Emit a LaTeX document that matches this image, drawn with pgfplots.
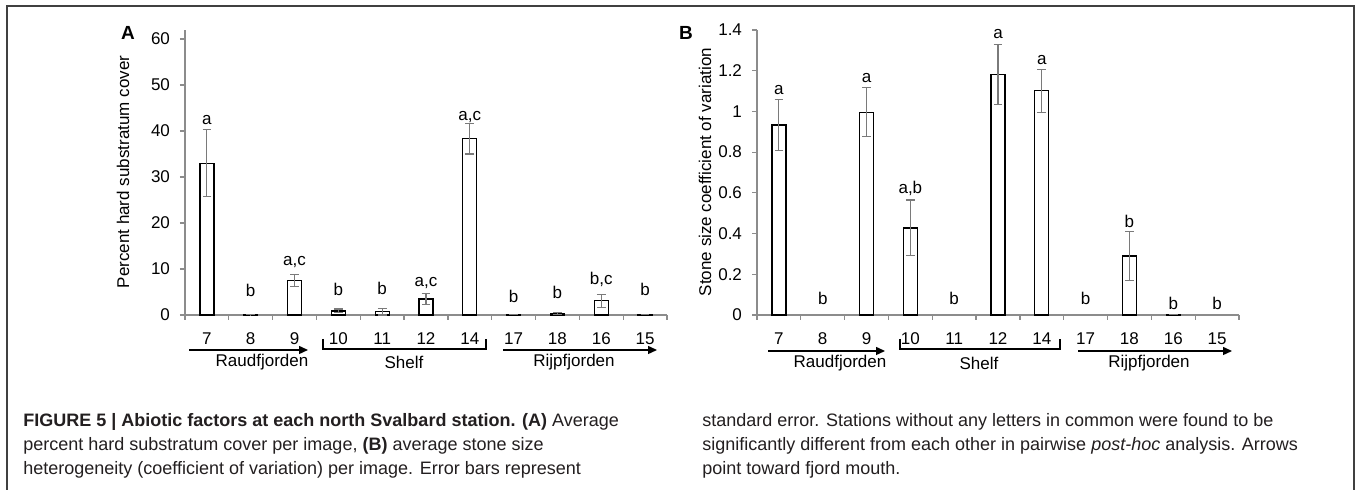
\documentclass[border=0pt]{standalone}
\usepackage{fontspec}
\setmainfont{Liberation Sans}
\usepackage{pgfplots}
\usepackage{pgfplotstable}
\pgfplotsset{compat=1.18}
\usetikzlibrary{arrows.meta}

\definecolor{axgray}{HTML}{8C8C8C}
\definecolor{errgray}{HTML}{7A7A7A}
\definecolor{framegray}{HTML}{404040}
\definecolor{captxt}{HTML}{231F20}

\newcommand{\chartfont}{\fontsize{8.5pt}{10pt}\selectfont}
\newcommand{\capfont}{\fontsize{9pt}{11pt}\selectfont}

\pgfplotstableread{
x  y     e
0  33.0  7.3
1  0.1   0.05
2  7.5   1.3
3  0.9   0.4
4  0.7   0.7
5  3.5   1.2
6  38.3  3.3
7  0.1   0.0
8  0.3   0.2
9  3.1   1.4
10 0.1   0.0
}\dataA

\pgfplotstableread{
x  ly    lab
0  42.4  a
1  5.4   b
2  11.6  a,c
3  5.6   b
4  5.8   b
5  6.9   a,c
6  43.0  a,c
7  4.05  b
8  4.8   b
9  7.8   b,c
10 5.6   b
}\labA

\pgfplotstableread{
x  y      e
0  0.934  0.126
2  0.996  0.121
3  0.428  0.137
5  1.181  0.147
6  1.102  0.106
8  0.290  0.119
9  0.003  0.0
}\dataB

\pgfplotstableread{
x  ly     lab
0  1.106  a
1  0.080  b
2  1.166  a
3  0.623  a,b
4  0.080  b
5  1.379  a
6  1.251  a
7  0.080  b
8  0.460  b
9  0.059  b
10 0.059  b
}\labB

\pgfplotsset{
  chartbase/.style={
    scale only axis, width=241pt, height=142.5pt,
    anchor=south west,
    xmin=-0.5, xmax=10.5, ymin=0,
    enlargelimits=false,
    clip=false,
    axis lines*=left,
    axis line style={draw=axgray, line width=0.6pt},
    xtick={-0.5,0.5,...,10.5},
    xticklabels={7,8,9,10,11,12,14,17,18,16,15,{}},
    xticklabel style={anchor=base, xshift=10.95pt, yshift=-12.5pt, font=\chartfont, black},
    yticklabel style={font=\chartfont, black, xshift=-1.5pt},
    tick align=outside,
    major tick length=2.5pt,
    tick style={draw=axgray, line width=0.6pt},
    /pgf/number format/assume math mode=true,
    every node near coord/.append style={font=\chartfont, black, anchor=center},
  },
  barplot/.style={
    ybar, bar width=7pt, bar shift=0pt,
    draw=black, fill=white, line width=0.65pt,
    error bars/.cd, y dir=both, y explicit,
    error bar style={errgray, line width=0.55pt},
    error mark options={rotate=90, mark size=2.2pt, errgray, line width=0.55pt},
  },
  letterplot/.style={
    draw=none, mark=none,
    nodes near coords={\pgfplotspointmeta},
    nodes near coords align={center},
    point meta=explicit symbolic,
  },
}

\begin{document}
\begin{tikzpicture}
\begin{scope}[x=0.5pt,y=-0.5pt]
\useasboundingbox (0,0) rectangle (1357,490);
\fill[white] (0,0) rectangle (1357,490);
% frame
\draw[framegray, line width=0.9pt] (7,495) -- (7,6) -- (1354,6) -- (1354,495);
\end{scope}

% Panel A
\begin{axis}[chartbase, at={(92.5pt,-157.5pt)}, ymax=61.96,
  ytick={0,10,...,60}]
\addplot[barplot] table[x=x, y=y, y error=e] {\dataA};
\addplot[letterplot] table[x=x, y=ly, meta=lab] {\labA};
\end{axis}

% Panel B
\begin{axis}[chartbase, at={(378.5pt,-157.5pt)}, ymax=1.4,
  ytick={0,0.2,...,1.4},
  yticklabel style={/pgf/number format/fixed, /pgf/number format/precision=1}]
\addplot[barplot] table[x=x, y=y, y error=e] {\dataB};
\addplot[letterplot] table[x=x, y=ly, meta=lab] {\labB};
\end{axis}

\begin{scope}[x=0.5pt,y=-0.5pt]
% panel letters and y labels
\node[font=\fontsize{9.5pt}{11pt}\selectfont\bfseries] at (128,33) {A};
\node[font=\fontsize{9.5pt}{11pt}\selectfont\bfseries] at (686,33) {B};
\node[font=\chartfont, rotate=90] at (123,172) {Percent hard substratum cover};
\node[font=\chartfont, rotate=90] at (705,172) {Stone size coefficient of variation};

% group annotations A
\draw[line width=0.7pt, -{Triangle[length=4.5pt,width=4pt]}] (189,350) -- (308,350);
\node[font=\chartfont] at (262,362) {Raudfjorden};
\draw[line width=0.55pt] (323,339) -- (323,349) -- (486,349) -- (486,339);
\node[font=\chartfont] at (404,362) {Shelf};
\draw[line width=0.7pt, -{Triangle[length=4.5pt,width=4pt]}] (503,350) -- (657,350);
\node[font=\chartfont] at (574,362) {Rijpfjorden};

% group annotations B
\draw[line width=0.7pt, -{Triangle[length=4.5pt,width=4pt]}] (768,351) -- (885,351);
\node[font=\chartfont] at (840,363) {Raudfjorden};
\draw[line width=0.55pt] (900,339) -- (900,349) -- (1060,349) -- (1060,339);
\node[font=\chartfont] at (979,363) {Shelf};
\draw[line width=0.7pt, -{Triangle[length=4.5pt,width=4pt]}] (1078,351) -- (1232,351);
\node[font=\chartfont] at (1149,363) {Rijpfjorden};

% caption
\begin{scope}[every node/.style={font=\capfont, text=captxt, anchor=base west, inner sep=0pt}]
\node at (23,427) {\textbf{FIGURE 5 | Abiotic factors at each north Svalbard station. (A)} Average};
\node at (23,451) {percent hard substratum cover per image, \textbf{(B)} average stone size};
\node at (23,475) {heterogeneity (coefficient of variation) per image. Error bars represent};
\node at (702,427) {standard error. Stations without any letters in common were found to be};
\node at (702,451) {significantly different from each other in pairwise \textit{post-hoc} analysis. Arrows};
\node at (702,475) {point toward fjord mouth.};
\end{scope}
\end{scope}
\end{tikzpicture}
\end{document}
